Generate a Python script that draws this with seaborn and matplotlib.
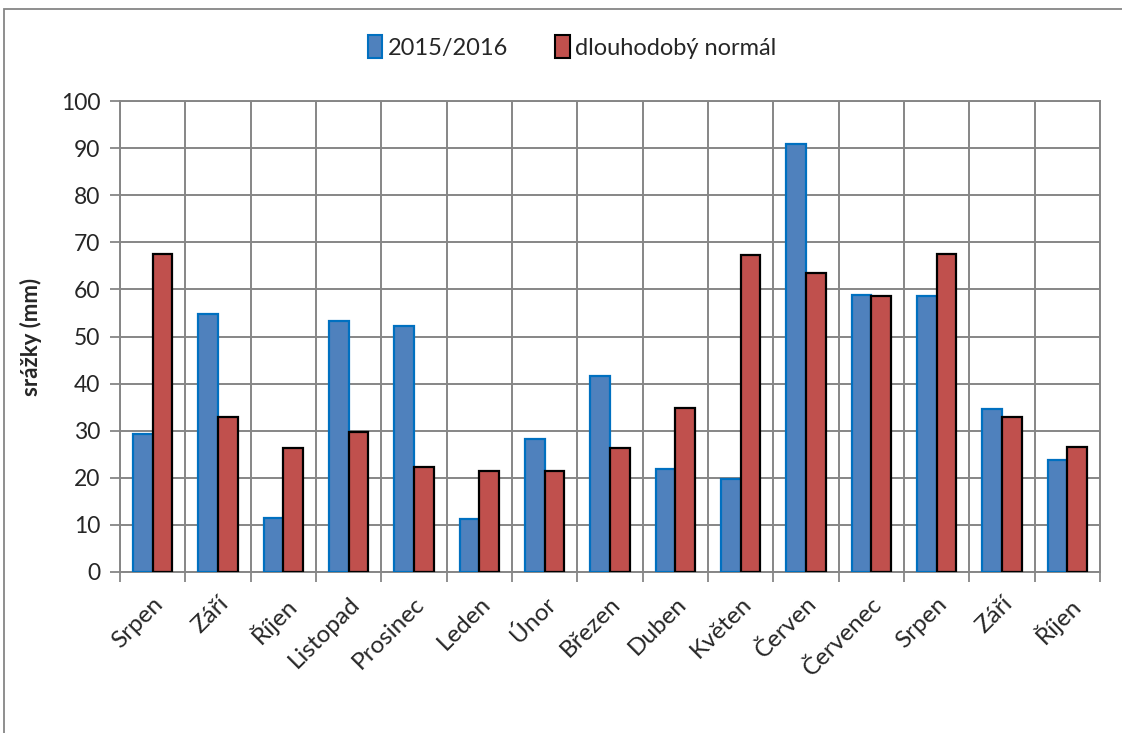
import pandas as pd
import seaborn as sns
import matplotlib.pyplot as plt
from matplotlib.patches import Rectangle, Patch

# === data ===
mesice = ["Srpen", "Září", "Říjen", "Listopad", "Prosinec", "Leden", "Únor",
          "Březen", "Duben", "Květen", "Červen", "Červenec", "Srpen", "Září", "Říjen"]
srazky_2015_2016 = [29.4, 54.7, 11.5, 53.3, 52.3, 11.3, 28.3, 41.7, 21.9, 19.7,
                    90.9, 58.8, 58.7, 34.7, 23.8]
dlouhodoby_normal = [67.5, 32.9, 26.4, 29.8, 22.2, 21.5, 21.4, 26.3, 34.8, 67.2,
                     63.5, 58.6, 67.5, 32.9, 26.5]
serie = ["2015/2016", "dlouhodobý normál"]

# poradi mesicu (opakuji se nazvy, proto index)
idx = [f"{i:02d}" for i in range(len(mesice))]
df = pd.DataFrame({
    "idx": idx * 2,
    "hodnota": srazky_2015_2016 + dlouhodoby_normal,
    "serie": [serie[0]] * len(mesice) + [serie[1]] * len(mesice),
})

sns.set_style("white")
plt.rcParams["font.family"] = ["Lato", "DejaVu Sans"]

fig = plt.figure(figsize=(11.22, 7.33), dpi=100)
ax = fig.add_axes([120 / 1122, 1 - 572 / 733, 980 / 1122, 471 / 733])

sns.barplot(data=df, x="idx", y="hodnota", hue="serie", order=idx,
            palette=["#4F81BD", "#C0504D"], saturation=1, width=0.6, ax=ax,
            legend=False)

# okraje sloupcu jako v Excelu
for cont, ec in zip(ax.containers, ["#0070C0", "black"]):
    for p in cont:
        p.set_edgecolor(ec)
        p.set_linewidth(1.6)
        p.set_zorder(3)

ax.set_xlim(-0.5, len(mesice) - 0.5)
ax.set_ylim(0, 100)
ax.set_yticks(range(0, 101, 10))
ax.set_xticks([i - 0.5 for i in range(len(mesice) + 1)], minor=False)
ax.set_xticklabels([])
ax.set_xticks(range(len(mesice)), minor=True)
ax.set_xticklabels(mesice, minor=True, rotation=45, ha="right",
                   rotation_mode="anchor", fontsize=17.5)
ax.tick_params(axis="x", which="minor", length=0, pad=15)
ax.tick_params(axis="x", which="major", length=7, width=1.3, color="#868686",
               direction="out", bottom=True)
ax.tick_params(axis="y", length=7, width=1.3, color="#868686", direction="out",
               left=True, labelsize=16.5, pad=7)

ax.grid(True, which="major", color="#868686", linewidth=1.4)
ax.set_axisbelow(True)
for s in ax.spines.values():
    s.set_color("#868686")
    s.set_linewidth(1.4)

ax.set_xlabel("")
ax.set_ylabel("srážky (mm)", fontsize=16, fontweight="bold", labelpad=14)

# legenda nahore
handles = [Patch(facecolor="#4F81BD", edgecolor="#0070C0", linewidth=1.5),
           Patch(facecolor="#C0504D", edgecolor="black", linewidth=1.5)]
fig.legend(handles, serie, loc="center", bbox_to_anchor=(0.51, 1 - 47 / 733),
           ncol=2, frameon=False, fontsize=17, handlelength=0.6,
           handleheight=1.1, handletextpad=0.25, columnspacing=2.0)

# ramecek grafu
fig.patches.append(Rectangle((4 / 1122, -0.1), 1.1, 1 - 9 / 733 + 0.1,
                             transform=fig.transFigure, fill=False,
                             edgecolor="#868686", linewidth=1.3))

fig.savefig("out.png", dpi=100)
